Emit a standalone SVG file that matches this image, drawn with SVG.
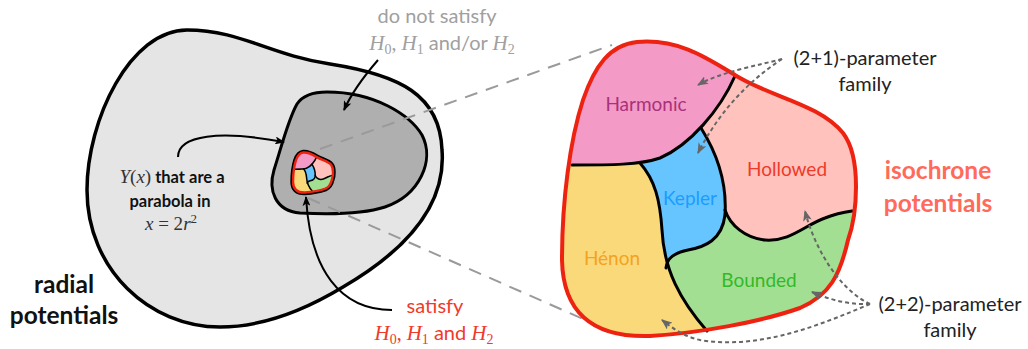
<svg xmlns="http://www.w3.org/2000/svg" width="1028" height="349" viewBox="0 0 1028 349">
<style>
 text{font-family:Lato,"Noto Sans",sans-serif}
 .m{font-family:"Liberation Serif",serif;font-style:italic;font-weight:normal}
 .n{font-family:"Liberation Serif",serif;font-weight:normal}
 .lbl{font-size:19px;text-anchor:middle}
 .big{font-size:24.5px;font-weight:bold;text-anchor:middle}
 .ann{font-size:20px;text-anchor:middle}
 .zoom{fill:none;stroke:#9a9a9a;stroke-width:2;stroke-dasharray:13 9}
 .arr{fill:none;stroke:#000;stroke-width:2;marker-end:url(#ah)}
 .dot{fill:none;stroke:#666;stroke-width:2;stroke-dasharray:4 3;marker-end:url(#ahg)}
</style>
<defs>
 <marker id="ah" viewBox="0 0 10 8" refX="9" refY="4" markerWidth="10" markerHeight="8" markerUnits="userSpaceOnUse" orient="auto"><path d="M0,0 L10,4 L0,8 L2.5,4 Z" fill="#000"/></marker>
 <marker id="ahg" viewBox="0 0 10 8" refX="9" refY="4" markerWidth="11" markerHeight="9" markerUnits="userSpaceOnUse" orient="auto"><path d="M0,0 L10,4 L0,8 L2.5,4 Z" fill="#666"/></marker>
 <path id="isoOutline" d="M 637,42 C 680,38 710,60 740,78 C 775,98 820,105 843,133 C 862,158 857,215 848,240 C 840,275 830,295 800,308 C 760,322 700,333 650,336 C 590,338 563,310 562,260 C 562,200 570,140 583,100 C 595,65 610,45 637,42 Z"/>
 <clipPath id="isoClip"><use href="#isoOutline"/></clipPath>
 <g id="isoFill" clip-path="url(#isoClip)">
  <use href="#isoOutline" fill="#ffc2bc"/>
  <path fill="#a3df92" d="M 725,210 C 730,225 745,238 765,240 C 790,242 805,225 825,218 C 835,214 845,212 852,211 L 900,205 L 900,360 L 540,360 L 540,200 L 725,200 Z"/>
  <path fill="#66c5ff" d="M 600,120 L 701,120 L 701,128 C 718,155 727,185 725,215 C 722,240 705,247 688,250 C 674,253 667,258 666,268 L 600,268 Z"/>
  <path fill="#fad97b" d="M 540,165 L 640,163 C 655,180 660,200 662,230 C 664,270 680,300 707,331 L 720,370 L 540,370 Z"/>
  <path fill="#f49ac6" d="M 540,165 L 572,165 C 610,165 640,165 660,158 C 690,145 720,110 735,76 L 745,55 L 745,10 L 540,10 Z"/>
 </g>
 <g id="isoBounds" fill="none" stroke="#000" stroke-linecap="round">
  <path d="M 572,165 C 610,165 640,165 660,158 C 690,145 720,110 735,76"/>
  <path d="M 640,163 C 655,180 660,200 662,230 C 664,270 680,300 707,331"/>
  <path d="M 701,128 C 718,155 727,185 725,215 C 722,240 705,247 688,250 C 674,253 667,258 666,268"/>
  <path d="M 725,210 C 730,225 745,238 765,240 C 790,242 805,225 825,218 C 835,214 845,212 852,211"/>
 </g>
</defs>
<rect width="1028" height="349" fill="#fff"/>

<g id="radial">
 <path d="M 187,30 C 240,30 270,55 330,64 C 400,75 440,95 442,150 C 446,200 415,245 343,287 C 300,313 260,327 220,327 C 150,327 87,270 87,190 C 87,120 130,30 187,30 Z" fill="#e5e5e5" stroke="#000" stroke-width="3.5"/>
</g>
<g id="nonsatisfy">
 <path d="M 327,92 C 375,92 410,115 422,135 C 435,160 420,195 385,207 C 360,215 320,214 300,213 C 275,211 268,190 274,170 C 282,145 288,120 297,104 C 303,95 313,92 327,92 Z" fill="#afafaf" stroke="#000" stroke-width="3"/>
</g>

<g id="zoomlines">
 <path class="zoom" d="M 320,149 L 612,45"/>
 <path class="zoom" d="M 308,198 L 590,322"/>
</g>

<g id="isochrone-mini" transform="translate(216.6,146.8) scale(0.136)">
 <use href="#isoOutline" fill="none" stroke="#000" stroke-width="40"/>
 <use href="#isoFill"/>
 <use href="#isoBounds" stroke-width="11"/>
 <use href="#isoOutline" fill="none" stroke="#ee2211" stroke-width="18"/>
</g>

<g id="isochrone">
 <use href="#isoFill"/>
 <use href="#isoBounds" stroke-width="3"/>
 <use href="#isoOutline" fill="none" stroke="#ee2211" stroke-width="4"/>
 <text class="lbl" x="646" y="111" fill="#a8327c">Harmonic</text>
 <text class="lbl" x="787" y="176" fill="#ee3a2a">Hollowed</text>
 <text class="lbl" x="690" y="205" fill="#1a9dff">Kepler</text>
 <text class="lbl" x="612" y="265" fill="#f4a21f">Hénon</text>
 <text class="lbl" x="759" y="287" fill="#33b828">Bounded</text>
</g>

<g id="connectors">
 <path class="arr" d="M 378,60 C 365,75 352,92 344,110"/>
 <path class="arr" d="M 178,157 C 178,135 220,130 284,142"/>
 <path class="arr" d="M 392,310 C 340,310 310,270 306,197"/>
 <path class="dot" d="M 782,59 C 760,65 720,72 698,85"/>
 <path class="dot" d="M 782,59 C 750,80 720,110 698,153"/>
 <path class="dot" d="M 870,304 C 840,290 815,250 805,211"/>
 <path class="dot" d="M 870,304 C 850,305 830,300 812,292"/>
 <path class="dot" d="M 870,304 C 820,325 760,350 700,340 C 685,337 672,328 662,320"/>
</g>

<g id="labels">
 <text class="big" x="64" y="293" fill="#111">radial</text>
 <text class="big" x="64" y="324" fill="#111">potentials</text>
 <text class="big" x="938" y="179" fill="#ff6a5a">isochrone</text>
 <text class="big" x="938" y="212" fill="#ff6a5a">potentials</text>
 <text class="ann" x="437" y="23" fill="#a0a0a0">do not satisfy</text>
 <text class="ann" x="442" y="50" fill="#a0a0a0"><tspan class="m" font-size="21">H</tspan><tspan class="n" font-size="14" dy="4">0</tspan><tspan class="n" dy="-4">, </tspan><tspan class="m" font-size="21">H</tspan><tspan class="n" font-size="14" dy="4">1</tspan><tspan dy="-4"> and/or </tspan><tspan class="m" font-size="21">H</tspan><tspan class="n" font-size="14" dy="4">2</tspan></text>
 <text class="ann" x="435" y="313" fill="#f03a2a">satisfy</text>
 <text class="ann" x="434" y="340" fill="#f03a2a"><tspan class="m" font-size="21">H</tspan><tspan class="n" font-size="14" dy="4">0</tspan><tspan class="n" dy="-4">, </tspan><tspan class="m" font-size="21">H</tspan><tspan class="n" font-size="14" dy="4">1</tspan><tspan dy="-4"> and </tspan><tspan class="m" font-size="21">H</tspan><tspan class="n" font-size="14" dy="4">2</tspan></text>
 <text class="ann" x="865" y="65" fill="#222">(2+1)-parameter</text>
 <text class="ann" x="865" y="91" fill="#222">family</text>
 <text class="ann" x="950" y="311" fill="#222">(2+2)-parameter</text>
 <text class="ann" x="950" y="337" fill="#222">family</text>
 <text x="172" y="183" font-size="16.5" font-weight="bold" text-anchor="middle" fill="#111"><tspan class="m" font-size="19" fill="#333">Y</tspan><tspan class="n" font-size="19" fill="#333">(</tspan><tspan class="m" font-size="19" fill="#333">x</tspan><tspan class="n" font-size="19" fill="#333">)</tspan> that are a</text>
 <text x="170" y="207" font-size="16.5" font-weight="bold" text-anchor="middle" fill="#111">parabola in</text>
 <text x="171" y="230" class="n" font-size="19" text-anchor="middle" fill="#333"><tspan class="m">x</tspan> = 2<tspan class="m">r</tspan><tspan font-size="13" dy="-7">2</tspan></text>
</g>
</svg>
